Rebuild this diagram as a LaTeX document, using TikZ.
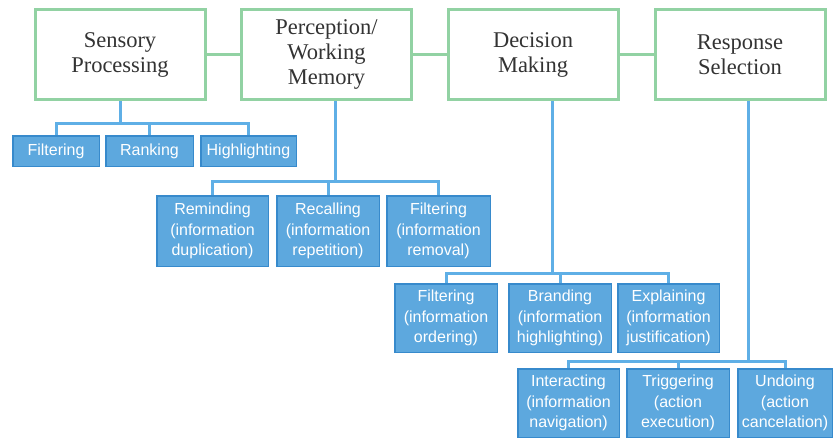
\documentclass[tikz,border=0pt]{standalone}
\usepackage{fontspec}
\setmainfont{Liberation Serif}
\newfontfamily\boxfont{Liberation Sans}
\usepackage{xcolor}
\usepackage{tikz}
\usetikzlibrary{positioning,calc}
\definecolor{stagegreen}{RGB}{146,210,163}
\definecolor{taskblue}{RGB}{93,168,222}
\definecolor{taskedge}{RGB}{55,138,204}
\definecolor{linkblue}{RGB}{95,175,230}

\begin{document}
\begin{tikzpicture}[x=1pt,y=-1pt]
 \tikzset{stage/.style={rectangle, draw=stagegreen, line width=3pt, fill=white, text=black!80, align=center, minimum width=170pt, minimum height=90pt, inner sep=0pt, font=\fontsize{22.5}{25}\selectfont},
   task/.style={rectangle, draw=taskedge, line width=1.5pt, fill=taskblue, text=white, align=center, inner sep=0pt, font=\boxfont\fontsize{16}{20.5}\selectfont},
   link/.style={draw=linkblue, line width=3pt}};
 \useasboundingbox (0,0) rectangle (839,440);
  % stages
  \node[stage] (sens) at (120,54.5) {Sensory\\Processing};
  \node[stage] (perc) at (326.5,54.5) {Perception/\\Working\\Memory};
  \node[stage] (deci) at (533,54.5) {Decision\\Making};
  \node[stage] (resp) at (740,54.5) {Response\\Selection};
  \draw[draw=stagegreen, line width=3pt] (sens) -- (perc);
  \draw[draw=stagegreen, line width=3pt] (perc) -- (deci);
  \draw[draw=stagegreen, line width=3pt] (deci) -- (resp);
  % sensory processing
  \node[task, minimum width=86.5pt, minimum height=30.5pt] (filt1) at (56,151) {Filtering};
  \node[task, minimum width=87.5pt, minimum height=30.5pt] (rank1) at (149.5,151) {Ranking};
  \node[task, minimum width=95.5pt, minimum height=30.5pt] (high1) at (248.5,151) {Highlighting};
  \draw[link] (filt1.north) -- ++(0,-12) coordinate (bar1) -| (high1.north);
  \draw[link] (rank1.north) -- (rank1.north |- bar1);
  \draw[link] (sens.south) -- (sens.south |- bar1);
  % perception / working memory
  \node[task, minimum width=111.5pt, minimum height=70.5pt] (remi) at (212.5,231) {Reminding\\(information\\duplication)};
  \node[task, minimum width=102.5pt, minimum height=70.5pt] (reca) at (328,231) {Recalling\\(information\\repetition)};
  \node[task, minimum width=103.5pt, minimum height=70.5pt] (filt2) at (438.5,231) {Filtering\\(information\\removal)};
  \draw[link] (remi.north) -- ++(0,-14) coordinate (bar2) -| (filt2.north);
  \draw[link] (reca.north) -- (reca.north |- bar2);
  \draw[link] ([xshift=8.5pt]perc.south) -- ([xshift=8.5pt]perc.south |- bar2);
  % decision making
  \node[task, minimum width=102.5pt, minimum height=68.5pt] (filt3) at (446,318) {Filtering\\(information\\ordering)};
  \node[task, minimum width=102.5pt, minimum height=68.5pt] (bran) at (560,318) {Branding\\(information\\highlighting)};
  \node[task, minimum width=101.5pt, minimum height=68.5pt] (expl) at (668.5,318) {Explaining\\(information\\justification)};
  \draw[link] (filt3.north) -- ++(0,-10) coordinate (bar3) -| (expl.north);
  \draw[link] (bran.north) -- (bran.north |- bar3);
  \draw[link] ([xshift=19pt]deci.south) -- ([xshift=19pt]deci.south |- bar3);
  % response selection
  \node[task, minimum width=101.5pt, minimum height=68.5pt] (inte) at (568.5,403) {Interacting\\(information\\navigation)};
  \node[task, minimum width=102.5pt, minimum height=68.5pt] (trig) at (678,403) {Triggering\\(action\\execution)};
  \node[task, minimum width=94.5pt, minimum height=68.5pt] (undo) at (785,403) {Undoing\\(action\\cancelation)};
  \draw[link] (inte.north) -- ++(0,-7) coordinate (bar4) -| (undo.north);
  \draw[link] (trig.north) -- (trig.north |- bar4);
  \draw[link] ([xshift=8pt]resp.south) -- ([xshift=8pt]resp.south |- bar4);
\end{tikzpicture}
\end{document}
